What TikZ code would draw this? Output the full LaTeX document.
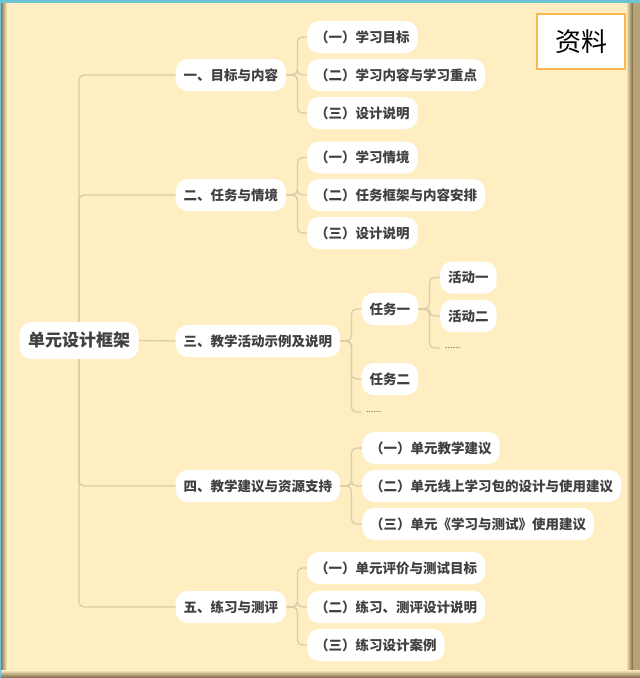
\documentclass[tikz,border=0pt]{standalone}
\usepackage{fontspec}
\setmainfont{Noto Sans CJK SC}
\usepackage{tikz}

\definecolor{paper}{RGB}{255,238,194}
\definecolor{linkcol}{RGB}{218,204,168}
\definecolor{ink}{RGB}{64,64,64}
\definecolor{tagline}{RGB}{250,184,78}
\definecolor{topbar}{RGB}{110,196,212}
\definecolor{shadowcol}{RGB}{120,100,62}

\tikzset{
  topic/.style={fill=white, rounded corners=12pt, text=ink, anchor=west,
    font=\fontsize{13.5}{16}\selectfont\bfseries,
    inner xsep=8pt, inner ysep=0pt, minimum height=32pt},
  rootbox/.style={topic, anchor=center, minimum height=37pt, inner xsep=8.5pt,
    font=\fontsize{17}{20}\selectfont\bfseries},
  more/.style={text=ink!80, anchor=west, font=\fontsize{9}{10}\selectfont,
    inner xsep=5pt, inner ysep=1pt},
  tagbox/.style={draw=tagline, line width=1.5pt, fill=white,
    minimum width=88pt, minimum height=55pt, font=\fontsize{26}{30}\selectfont},
  link/.style={draw=linkcol, line width=1.3pt, rounded corners=5pt},
}

\begin{document}
\begin{tikzpicture}[x=1pt,y=-1pt]
      \useasboundingbox (0,0) rectangle (640,678);
      \fill[paper] (0,0) rectangle (640,678);
      \shade[left color=shadowcol, right color=paper] (0,0) rectangle (7,678);
      \shade[left color=paper, right color=shadowcol] (626,0) rectangle (633,678);
      \fill[shadowcol!55!paper] (633,0) rectangle (640,678);
      \shade[top color=paper, bottom color=shadowcol] (0,670) rectangle (640,678);
      \fill[topbar] (0,0) rectangle (640,3);
      \fill[topbar] (0,0) rectangle (1,678);

      \node[tagbox] (tag) at (581,41.5) {资料};

      \node[rootbox] (root) at (79,340.5) {单元设计框架};

      \node[topic] (goal) at (175.5,75) {一、目标与内容};
      \node[topic] (task) at (175.5,195) {二、任务与情境};
      \node[topic] (act) at (175.5,341) {三、教学活动示例及说明};
      \node[topic] (advice) at (175.5,486) {四、教学建议与资源支持};
      \node[topic] (test) at (175.5,607) {五、练习与测评};

      \node[topic] (goal1) at (307,37) {（一）学习目标};
      \node[topic] (goal2) at (307,75) {（二）学习内容与学习重点};
      \node[topic] (goal3) at (307,113) {（三）设计说明};

      \node[topic] (task1) at (307,157.5) {（一）学习情境};
      \node[topic] (task2) at (307,195) {（二）任务框架与内容安排};
      \node[topic] (task3) at (307,233) {（三）设计说明};

      \node[topic] (job1) at (361.5,309) {任务一};
      \node[topic] (job2) at (361.5,379) {任务二};
      \node[more] (jobmore) at (361,412) {......};

      \node[topic] (step1) at (440,277.5) {活动一};
      \node[topic] (step2) at (440,316) {活动二};
      \node[more] (stepmore) at (440,348) {......};

      \node[topic] (advice1) at (362,448) {（一）单元教学建议};
      \node[topic] (advice2) at (362,486) {（二）单元线上学习包的设计与使用建议};
      \node[topic] (advice3) at (362,524) {（三）单元《学习与测试》使用建议};

      \node[topic] (test1) at (307,568) {（一）单元评价与测试目标};
      \node[topic] (test2) at (307,607) {（二）练习、测评设计说明};
      \node[topic] (test3) at (307,645) {（三）练习设计案例};

      \foreach \c in {goal,task}
        \draw[link] (root.north) |- (\c.west);
      \draw[link] (root.east) -- (act.west);
      \foreach \c in {advice,test}
        \draw[link] (root.south) |- (\c.west);

      \foreach \p/\c in {goal/goal1,goal/goal2,goal/goal3,task/task1,task/task2,task/task3,
          act/job1,act/job2,act/jobmore,advice/advice1,advice/advice2,advice/advice3,
          test/test1,test/test2,test/test3,job1/step1,job1/step2,job1/stepmore}
        \draw[link] (\p.east) -- ([xshift=11]\p.east) |- (\c.west);
    \end{tikzpicture}
\end{document}
